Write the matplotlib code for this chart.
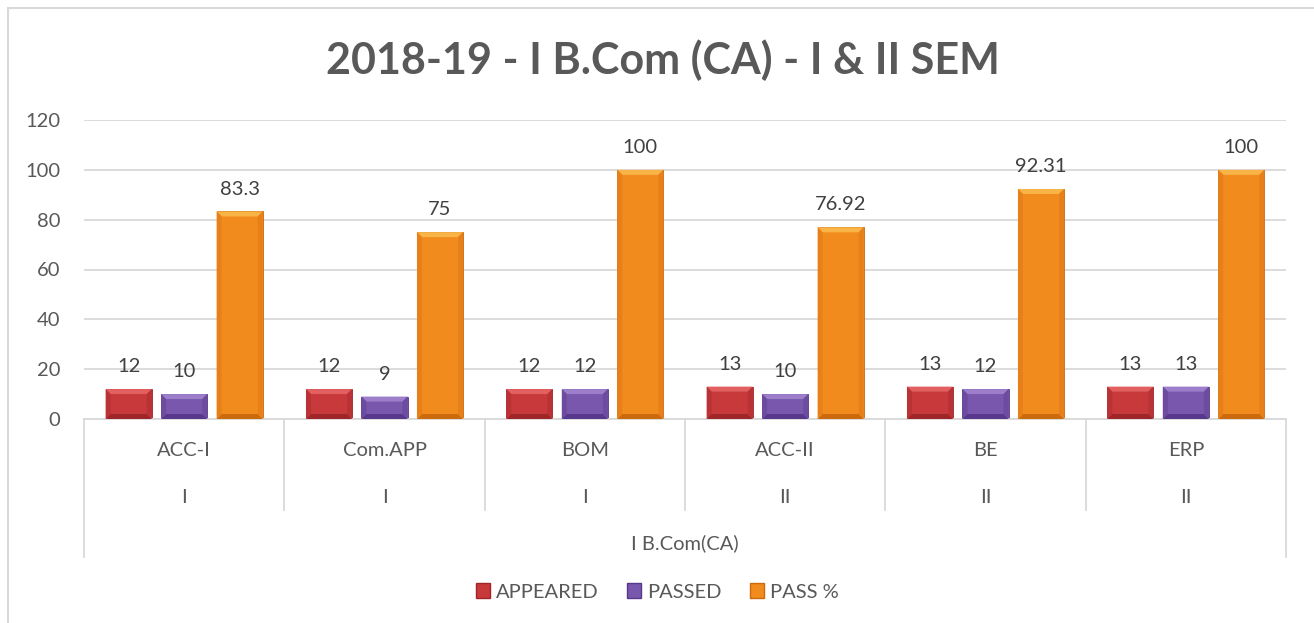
import matplotlib.pyplot as plt
import matplotlib.transforms as mtransforms
from matplotlib.patches import Polygon, Patch, Rectangle
import numpy as np

subjects = ["ACC-I", "Com.APP", "BOM", "ACC-II", "BE", "ERP"]
semesters = ["I", "I", "I", "II", "II", "II"]
group_label = "I B.Com(CA)"
appeared = [12, 12, 12, 13, 13, 13]
passed = [10, 9, 12, 10, 12, 13]
pass_pct = [83.3, 75, 100, 76.92, 92.31, 100]
pct_labels = ["83.3", "75", "100", "76.92", "92.31", "100"]
series_names = ["APPEARED", "PASSED", "PASS %"]

# body, top bevel, bottom bevel, side shade
palette = [
    ("#C8393B", "#E2605F", "#9E2628", "#B93336"),
    ("#7957AC", "#9C7ECB", "#58388C", "#6D4CA0"),
    ("#F28B1E", "#F9B447", "#CC6A0E", "#E88019"),
]

plt.rcParams['font.family'] = ['Lato', 'DejaVu Sans']
txt = "#595959"
fs = 14.5

fig = plt.figure(figsize=(13.14, 6.23), dpi=100)
ax = fig.add_axes([84 / 1314, 1 - 419 / 623, (1286 - 84) / 1314, (419 - 120) / 623])

# outer chart border
fig.patches.append(Rectangle((8 / 1314, -0.02), 1.1, 1 - 8 / 623 + 0.02, transform=fig.transFigure,
                             fill=False, edgecolor="#D9D9D9", linewidth=1.5))

x = np.arange(len(subjects))
width = 0.23
offsets = [-0.277, 0, 0.277]
ax.set_xlim(-0.5, len(subjects) - 0.5)
ax.set_ylim(0, 120)

ax.set_yticks(range(0, 121, 20))
ax.grid(axis="y", color="#D9D9D9", linewidth=1.3)
ax.set_axisbelow(True)
for s in ["top", "right", "left"]:
    ax.spines[s].set_visible(False)
ax.spines["bottom"].set_color("#D9D9D9")
ax.spines["bottom"].set_linewidth(1.3)
ax.tick_params(axis="y", length=0, labelsize=fs, labelcolor=txt, pad=17)
ax.tick_params(axis="x", length=0)
ax.set_xticks([])

# bevel size in data units (~5 px)
px_x = ax.transData.transform((1, 0))[0] - ax.transData.transform((0, 0))[0]
px_y = ax.transData.transform((0, 1))[1] - ax.transData.transform((0, 0))[1]
bx, by = 5 / px_x, 5 / px_y

data = [appeared, passed, pass_pct]
labels = [[str(v) for v in appeared], [str(v) for v in passed], pct_labels]
for k, vals in enumerate(data):
    body, top, bot, side = palette[k]
    bars = ax.bar(x + offsets[k], vals, width, color=body, edgecolor=bot, linewidth=0.6, zorder=2)
    for b, lab in zip(bars, labels[k]):
        x0, y0 = b.get_x(), b.get_y()
        x1, y1 = x0 + b.get_width(), y0 + b.get_height()
        polys = [
            ([(x0, y1), (x1, y1), (x1 - bx, y1 - by), (x0 + bx, y1 - by)], top),
            ([(x0, y0), (x1, y0), (x1 - bx, y0 + by), (x0 + bx, y0 + by)], bot),
            ([(x0, y0), (x0 + bx, y0 + by), (x0 + bx, y1 - by), (x0, y1)], side),
            ([(x1, y0), (x1 - bx, y0 + by), (x1 - bx, y1 - by), (x1, y1)], side),
        ]
        for pts, c in polys:
            ax.add_patch(Polygon(pts, closed=True, facecolor=c, edgecolor="none", zorder=3))
        ax.annotate(lab, (b.get_x() + b.get_width() / 2, y1), xytext=(0, 10),
                    textcoords="offset points", ha="center", va="bottom",
                    fontsize=fs, color="#404040")

# multi-level category axis
trans = mtransforms.blended_transform_factory(ax.transData, ax.transAxes)
for i in range(len(subjects)):
    ax.text(i, -0.104, subjects[i], transform=trans, ha="center", va="center",
            fontsize=fs, color=txt)
    ax.text(i, -0.261, semesters[i], transform=trans, ha="center", va="center",
            fontsize=fs, color=txt)
for b in np.arange(-0.5, len(subjects), 1.0):
    outer = b == -0.5 or b == len(subjects) - 0.5
    ax.plot([b, b], [0, -0.4615 if outer else -0.304], transform=trans, color="#D9D9D9",
            linewidth=1.3, clip_on=False)
ax.text((len(subjects) - 1) / 2, -0.415, group_label, transform=trans, ha="center", va="center",
        fontsize=fs, color=txt)

fig.text(663 / 1314, 1 - 60 / 623, "2018-19 - I B.Com (CA) - I & II SEM", ha="center", va="center",
         fontsize=31, fontweight="bold", color=txt)

handles = [Patch(facecolor=palette[k][0], edgecolor=palette[k][2]) for k in range(3)]
fig.legend(handles, series_names, loc="center", bbox_to_anchor=(0.5, 1 - 592 / 623), ncol=3,
           frameon=False, fontsize=fs, labelcolor=txt, handlelength=0.7, handleheight=0.7,
           handletextpad=0.3, columnspacing=1.4)

fig.savefig("out.png", dpi=100)
